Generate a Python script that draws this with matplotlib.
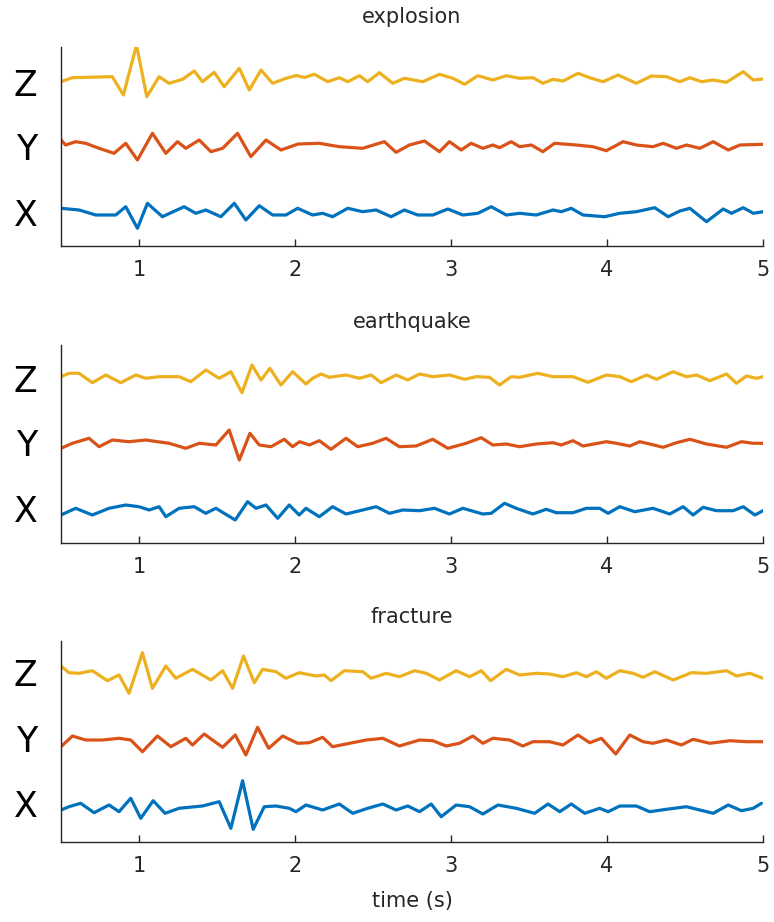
import matplotlib
matplotlib.use("Agg")
import matplotlib.pyplot as plt
import numpy as np

# ---------------- data (time [s], amplitude [arb. units]) ----------------
titles = ["explosion", "earthquake", "fracture"]
channels = ["X", "Y", "Z"]
x_ticks = [1, 2, 3, 4, 5]

explosion_Z = [(0.5,0.3),(0.53,2),(0.573,4.3),(0.829,5.3),(0.9,-13),(0.984,37),(1.05,-14.7),(1.129,5.3),(1.193,-1.3),(1.279,2.7),(1.354,11),(1.407,0.3),(1.482,9.7),(1.546,-4.7),(1.643,13.7),(1.707,-8),(1.782,12),(1.857,-1.3),(1.942,3.7),(2.01,6.5),(2.06,4.5),(2.124,7.7),(2.21,0.3),(2.284,4.3),(2.338,0.3),(2.413,6.3),(2.466,0.3),(2.541,9.3),(2.627,-1.3),(2.701,3.7),(2.819,0.3),(2.926,7.7),(3.012,3.7),(3.087,-2.3),(3.172,6.3),(3.268,2),(3.354,6.3),(3.44,3.7),(3.525,4.3),(3.589,-1.3),(3.654,2.7),(3.718,1),(3.814,8.7),(3.889,4.3),(3.975,0.3),(4.071,7),(4.188,-1.3),(4.285,6),(4.381,5.3),(4.467,0.3),(4.531,4.3),(4.606,0.3),(4.681,2),(4.766,-0.3),(4.873,10.3),(4.938,2),(5.0,3)]
explosion_Y = [(0.5,7),(0.53,2),(0.594,5.3),(0.658,3.7),(0.744,-1.3),(0.84,-6.3),(0.915,3.7),(0.99,-13),(1.086,13.7),(1.172,-6.3),(1.247,5.3),(1.3,-1.3),(1.386,7),(1.461,-4.7),(1.536,-1.3),(1.632,13.7),(1.717,-9.7),(1.814,7),(1.91,-3),(2.02,3),(2.156,3.7),(2.284,0.3),(2.434,-1.3),(2.573,5.3),(2.648,-5.3),(2.733,2),(2.83,6),(2.926,-4.7),(2.99,5.3),(3.065,-3),(3.129,3.7),(3.204,-1.3),(3.268,2),(3.311,-0.7),(3.386,5.3),(3.44,0.3),(3.515,2),(3.589,-4.7),(3.664,3.7),(3.803,2),(3.91,0.3),(3.996,-3.7),(4.103,5.3),(4.188,2),(4.295,0.3),(4.36,3.7),(4.445,-1.3),(4.51,2),(4.595,-1.3),(4.681,5.3),(4.777,-3),(4.852,2),(5.0,2.7)]
explosion_X = [(0.5,3.7),(0.616,2),(0.723,-3),(0.851,-3),(0.915,5.3),(0.99,-16.3),(1.054,8.7),(1.15,-4.7),(1.289,5.3),(1.364,-1.3),(1.428,2),(1.525,-4.7),(1.611,8.7),(1.685,-8),(1.771,6.3),(1.857,-3),(1.942,-3),(2.017,3.7),(2.113,-3),(2.177,-1.3),(2.241,-4.7),(2.338,3.7),(2.434,0.3),(2.52,2),(2.616,-4.7),(2.701,2),(2.787,-3),(2.884,-3),(2.98,3),(3.076,-3),(3.172,-1.3),(3.258,5.3),(3.354,-3),(3.44,-1.3),(3.547,-3),(3.654,2),(3.707,0.3),(3.771,3.7),(3.846,-3),(3.985,-4.7),(4.082,-1.3),(4.188,0.3),(4.306,4.3),(4.392,-4.7),(4.467,1),(4.531,3.7),(4.638,-9.7),(4.745,3),(4.798,-1.3),(4.873,4.3),(4.938,-1.3),(5.0,0.3)]

earthquake_Z = [(0.5,1.3),(0.551,4.7),(0.616,4.7),(0.701,-4.7),(0.787,3),(0.883,-4.7),(0.979,3),(1.043,-0.3),(1.129,1.3),(1.257,1.3),(1.332,-3.7),(1.429,8),(1.514,-0.3),(1.589,6.3),(1.66,-14.7),(1.724,13),(1.782,-2),(1.839,9.7),(1.91,-7),(1.985,6.3),(2.07,-6),(2.113,-0.3),(2.167,4),(2.22,0.7),(2.327,3),(2.413,-0.3),(2.488,3),(2.552,-4.7),(2.648,3),(2.723,-2),(2.798,4),(2.883,1.3),(2.99,3),(3.087,-1.3),(3.162,1.3),(3.247,0.7),(3.311,-7),(3.386,1.3),(3.44,0.7),(3.557,4.7),(3.654,1.3),(3.782,1.3),(3.878,-4.3),(3.996,3),(4.082,1.3),(4.156,-3.7),(4.253,3),(4.317,-1.3),(4.424,6.3),(4.51,1.3),(4.574,3),(4.659,-2.7),(4.766,4),(4.83,-5.3),(4.894,2),(4.959,-0.3),(5.0,1.3)]
earthquake_Y = [(0.5,-5.3),(0.573,-0.3),(0.68,4.7),(0.744,-3.7),(0.829,3),(0.936,1.3),(1.043,3),(1.193,-0.3),(1.3,-5.3),(1.386,-0.3),(1.493,-2),(1.578,13),(1.643,-17),(1.711,9.7),(1.771,-2),(1.846,-3.7),(1.931,3.7),(1.985,-3.7),(2.03,1.3),(2.092,-2),(2.156,2.3),(2.231,-6.3),(2.327,4.7),(2.402,-3.7),(2.498,-0.3),(2.584,4.7),(2.669,-3.7),(2.776,-3),(2.883,3.7),(2.98,-5.3),(3.097,-0.3),(3.194,5.3),(3.268,-2),(3.354,-1),(3.44,-3.7),(3.547,-1),(3.654,0.3),(3.707,-2),(3.782,2.3),(3.846,-3),(3.996,1.3),(4.06,-0.3),(4.146,-3),(4.21,1.3),(4.274,-1),(4.36,-4.3),(4.445,0.3),(4.531,3.7),(4.638,-1),(4.766,-4.3),(4.862,1.3),(4.937,-0.3),(5.0,-0.3)]
earthquake_X = [(0.5,-7),(0.594,-0.3),(0.701,-7),(0.808,-0.3),(0.915,3),(1.0,1.3),(1.065,-2),(1.129,1.3),(1.172,-8.7),(1.257,-0.3),(1.354,1.3),(1.428,-5.3),(1.493,-0.3),(1.546,-5.3),(1.617,-12),(1.696,6.3),(1.75,-0.3),(1.814,3),(1.889,-10.3),(1.963,3),(2.027,-7),(2.07,-0.3),(2.156,-8.7),(2.241,1.3),(2.327,-6),(2.434,-2),(2.52,1.3),(2.605,-5.3),(2.691,-2),(2.798,-2.7),(2.894,-0.3),(2.99,-6),(3.076,-0.3),(3.204,-6),(3.258,-5.3),(3.343,4.7),(3.418,-0.3),(3.525,-6),(3.611,-1.3),(3.675,-4.7),(3.782,-4.7),(3.868,-0.3),(3.953,-0.3),(4.007,-5.3),(4.082,1.3),(4.178,-3.7),(4.295,-0.3),(4.402,-6),(4.488,1.3),(4.552,-7),(4.616,0.7),(4.702,-2.7),(4.809,-2.7),(4.873,1.3),(4.948,-7),(5.0,-2.7)]

fracture_Z = [(0.5,7),(0.551,0.3),(0.616,-0.3),(0.701,2.3),(0.797,-7.7),(0.872,-2),(0.936,-20.3),(1.022,20.3),(1.086,-15.3),(1.172,7),(1.236,-5.3),(1.343,3.7),(1.461,-7),(1.536,2.3),(1.6,-15.3),(1.67,17),(1.739,-9.7),(1.792,3.7),(1.878,1.3),(1.942,-5.3),(2.027,0.3),(2.135,-3),(2.188,-2),(2.231,-7.7),(2.316,2.3),(2.434,1.3),(2.488,-5.3),(2.584,-0.3),(2.669,-3.7),(2.766,2.3),(2.841,-0.3),(2.926,-7),(3.033,2.3),(3.119,-3.7),(3.194,2.3),(3.254,-7.7),(3.354,3.7),(3.44,-2),(3.547,-0.3),(3.632,-1),(3.718,-3.7),(3.803,0.3),(3.868,-3.7),(3.932,1.3),(3.996,-5.3),(4.082,2.3),(4.167,-0.3),(4.231,-4.3),(4.306,1.3),(4.424,-7),(4.541,0.3),(4.638,-0.3),(4.766,2.3),(4.83,-3),(4.916,-0.3),(5.0,-5.3)]
fracture_Y = [(0.5,-8.7),(0.573,2),(0.658,-2),(0.765,-2),(0.872,-0.3),(0.947,-2),(1.022,-13.7),(1.118,2),(1.204,-8.7),(1.3,-0.3),(1.343,-7),(1.418,4),(1.536,-9.3),(1.617,3),(1.685,-17),(1.76,10.7),(1.831,-10.3),(1.921,2),(2.017,-5.3),(2.092,-4.7),(2.177,0.7),(2.241,-8.7),(2.327,-6),(2.456,-2),(2.563,-0.3),(2.669,-8),(2.798,-2),(2.883,-2.7),(2.969,-8),(3.054,-5.3),(3.14,2),(3.204,-5.3),(3.268,-0.3),(3.375,-2),(3.461,-8),(3.525,-3.7),(3.632,-3.7),(3.718,-7),(3.814,3),(3.889,-4.7),(3.964,-0.3),(4.056,-16),(4.146,3),(4.231,-3.7),(4.295,-5.3),(4.381,-2),(4.477,-7),(4.552,-1.3),(4.659,-5.3),(4.788,-2.7),(4.894,-3.7),(5.0,-3.7)]
fracture_X = [(0.5,-7),(0.551,-3.7),(0.626,-0.3),(0.712,-9.7),(0.808,-2),(0.872,-8.7),(0.947,4.7),(1.011,-15.3),(1.091,2.3),(1.167,-10.3),(1.257,-5.3),(1.407,-3),(1.514,1.3),(1.589,-25.3),(1.664,22.3),(1.732,-26.3),(1.803,-3.7),(1.878,-3),(1.963,-5.3),(2.006,-8.7),(2.07,-2),(2.177,-7),(2.284,-1),(2.37,-10.3),(2.466,-5.3),(2.563,-1),(2.648,-7),(2.723,-3),(2.798,-8.7),(2.873,-1),(2.937,-13.7),(3.033,-2),(3.119,-3.7),(3.204,-11),(3.301,-2),(3.418,-5.3),(3.536,-10.3),(3.622,-1),(3.697,-8.7),(3.771,-1),(3.857,-10.3),(3.953,-5.3),(4.007,-8.7),(4.082,-3),(4.188,-3),(4.274,-8.7),(4.381,-6.3),(4.509,-3.7),(4.595,-7),(4.681,-10.3),(4.777,-2),(4.862,-7.7),(4.937,-5.3),(4.99,-0.3)]

panels = [
    {"X": explosion_X, "Y": explosion_Y, "Z": explosion_Z},
    {"X": earthquake_X, "Y": earthquake_Y, "Z": earthquake_Z},
    {"X": fracture_X, "Y": fracture_Y, "Z": fracture_Z},
]

# ---------------- style / layout ----------------
colors = {"X": "#0072BD", "Y": "#D95319", "Z": "#EDB120"}
offsets = {"X": 0, "Y": 65, "Z": 130}
W, H = 774, 922
# (top px, bottom px, ylim, title pad) per panel
geom = [(47, 246, (-34, 165), 17), (345, 543, (-35, 163), 12), (641, 842, (-39, 162), 13)]
left_px, right_px = 61, 763

fig = plt.figure(figsize=(W / 100, H / 100), dpi=100)
plt.rcParams["font.family"] = ["DejaVu Sans"]

for i, (data, title, (top, bot, ylim, tpad)) in enumerate(zip(panels, titles, geom)):
    ax = fig.add_axes([left_px / W, 1 - bot / H, (right_px - left_px) / W, (bot - top) / H])
    for ch in ["Z", "Y", "X"]:
        arr = np.array(data[ch])
        ax.plot(arr[:, 0], arr[:, 1] + offsets[ch], color=colors[ch], lw=2.3,
                solid_joinstyle="round", solid_capstyle="round")
    ax.set_xlim(0.5, 5)
    ax.set_ylim(*ylim)
    ax.set_xticks(x_ticks)
    ax.set_xticklabels([str(v) for v in x_ticks])
    ax.set_yticks([offsets[c] for c in channels])
    ax.set_yticklabels(channels, fontsize=25, color="black")
    ax.tick_params(axis="y", length=0, pad=17)
    ax.tick_params(axis="x", direction="in", length=5, width=1, labelsize=15,
                   labelcolor="#262626", color="#262626", pad=10)
    for s in ["top", "right"]:
        ax.spines[s].set_visible(False)
    for s in ["left", "bottom"]:
        ax.spines[s].set_color("#262626")
        ax.spines[s].set_linewidth(1.0)
    ax.set_title(title, fontsize=15, color="#262626", pad=tpad)
    if i == 2:
        ax.set_xlabel("time (s)", fontsize=15, color="#262626", labelpad=11)

fig.savefig("out.png", dpi=100)
